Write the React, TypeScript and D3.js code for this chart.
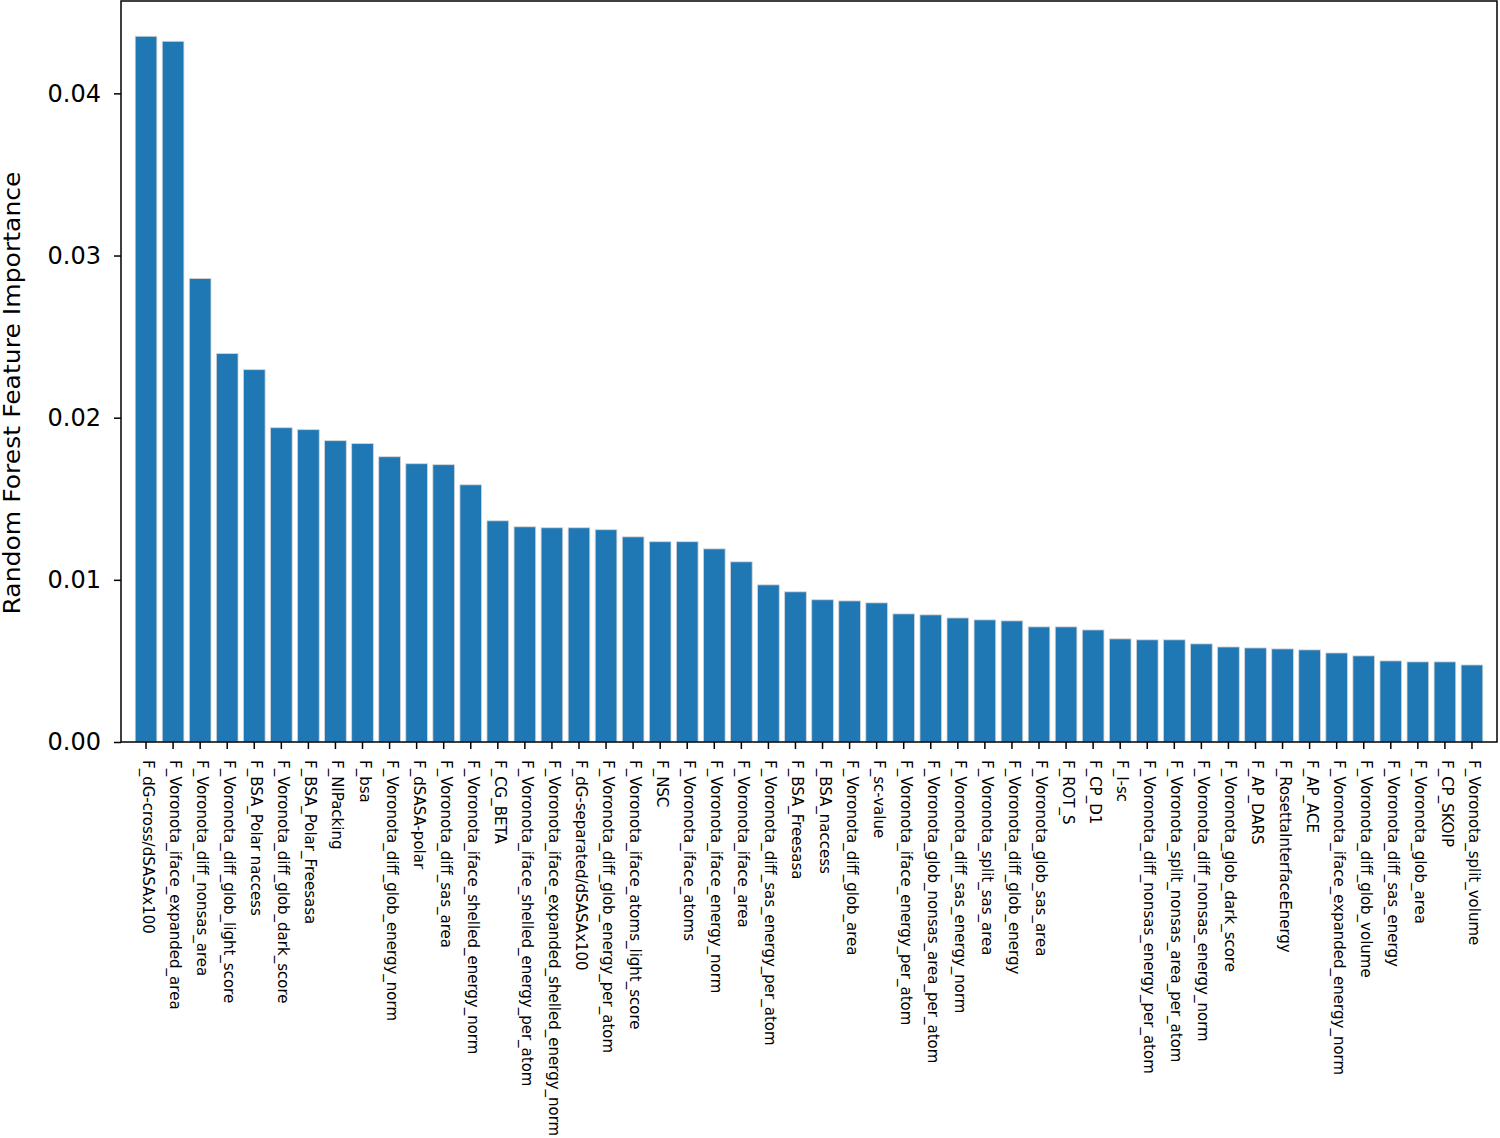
import React, { useEffect, useRef } from "react";
import * as d3 from "d3";

const features = [
  "F_dG-cross/dSASAx100",
  "F_Voronota_iface_expanded_area",
  "F_Voronota_diff_nonsas_area",
  "F_Voronota_diff_glob_light_score",
  "F_BSA_Polar naccess",
  "F_Voronota_diff_glob_dark_score",
  "F_BSA_Polar_Freesasa",
  "F_NIPacking",
  "F_bsa",
  "F_Voronota_diff_glob_energy_norm",
  "F_dSASA-polar",
  "F_Voronota_diff_sas_area",
  "F_Voronota_iface_shelled_energy_norm",
  "F_CG_BETA",
  "F_Voronota_iface_shelled_energy_per_atom",
  "F_Voronota_iface_expanded_shelled_energy_norm",
  "F_dG-separated/dSASAx100",
  "F_Voronota_diff_glob_energy_per_atom",
  "F_Voronota_iface_atoms_light_score",
  "F_NSC",
  "F_Voronota_iface_atoms",
  "F_Voronota_iface_energy_norm",
  "F_Voronota_iface_area",
  "F_Voronota_diff_sas_energy_per_atom",
  "F_BSA_Freesasa",
  "F_BSA_naccess",
  "F_Voronota_diff_glob_area",
  "F_sc-value",
  "F_Voronota_iface_energy_per_atom",
  "F_Voronota_glob_nonsas_area_per_atom",
  "F_Voronota_diff_sas_energy_norm",
  "F_Voronota_split_sas_area",
  "F_Voronota_diff_glob_energy",
  "F_Voronota_glob_sas_area",
  "F_ROT_S",
  "F_CP_D1",
  "F_I-sc",
  "F_Voronota_diff_nonsas_energy_per_atom",
  "F_Voronota_split_nonsas_area_per_atom",
  "F_Voronota_diff_nonsas_energy_norm",
  "F_Voronota_glob_dark_score",
  "F_AP_DARS",
  "F_RosettaInterfaceEnergy",
  "F_AP_ACE",
  "F_Voronota_iface_expanded_energy_norm",
  "F_Voronota_diff_glob_volume",
  "F_Voronota_diff_sas_energy",
  "F_Voronota_glob_area",
  "F_CP_SKOIP",
  "F_Voronota_split_volume",
];

const importance = [
  0.04352, 0.04321, 0.02858, 0.02395, 0.02296, 0.01938, 0.01926, 0.01858,
  0.0184, 0.01759, 0.01716, 0.0171, 0.01586, 0.01364, 0.01327, 0.01321,
  0.01321, 0.01309, 0.01265, 0.01235, 0.01235, 0.01191, 0.01111, 0.00969,
  0.00926, 0.00877, 0.0087, 0.00858, 0.0079, 0.00784, 0.00765, 0.00753,
  0.00747, 0.0071, 0.0071, 0.00691, 0.00636, 0.0063, 0.0063, 0.00605,
  0.00586, 0.0058, 0.00574, 0.00568, 0.00549, 0.00531, 0.005, 0.00494,
  0.00494, 0.00475,
];

const yTicks = [0, 0.01, 0.02, 0.03, 0.04];

const App = () => {
  const ref = useRef<SVGSVGElement>(null);

  useEffect(() => {
    const width = 1500;
    const height = 1138;
    const margin = { top: 1, right: 3, bottom: 396, left: 121 };

    const svg = d3.select(ref.current);
    svg.selectAll("*").remove();

    const data = features.map((f, i) => ({ name: f, value: importance[i] }));

    const x = d3
      .scaleBand()
      .domain(features)
      .range([margin.left, width - margin.right])
      .paddingInner(0.2)
      .paddingOuter(0.525);

    const y = d3
      .scaleLinear()
      .domain([0, d3.max(importance) * 1.05])
      .range([height - margin.bottom, margin.top]);

    svg.append("g")
      .selectAll("rect")
      .data(data)
      .join("rect")
      .attr("x", (d) => x(d.name))
      .attr("y", (d) => y(d.value))
      .attr("width", x.bandwidth())
      .attr("height", (d) => y(0) - y(d.value))
      .attr("fill", "#1f77b4")
      .attr("stroke", "#d4d4d4")
      .attr("stroke-width", 0.8);

    const font = "'DejaVu Sans', sans-serif";

    // x axis
    const xAxis = svg
      .append("g")
      .attr("transform", `translate(0,${y(0)})`)
      .call(d3.axisBottom(x).tickSize(7).tickSizeOuter(0));
    xAxis.select(".domain").remove();
    xAxis.selectAll(".tick line").attr("stroke", "#000").attr("stroke-width", 1.5);
    xAxis
      .selectAll(".tick text")
      .attr("font-family", font)
      .attr("font-size", 15)
      .attr("fill", "#000")
      .attr("transform", "rotate(90)")
      .attr("text-anchor", "start")
      .attr("x", 18)
      .attr("y", 0)
      .attr("dy", "0.2em");

    // y axis
    const yAxis = svg
      .append("g")
      .attr("transform", `translate(${margin.left},0)`)
      .call(
        d3.axisLeft(y).tickValues(yTicks).tickSize(7).tickPadding(13)
          .tickFormat(d3.format(".2f"))
      );
    yAxis.select(".domain").remove();
    yAxis.selectAll(".tick line").attr("stroke", "#000").attr("stroke-width", 1.5);
    yAxis
      .selectAll(".tick text")
      .attr("font-family", font)
      .attr("font-size", 24)
      .attr("fill", "#000");

    // frame
    svg.append("rect")
      .attr("x", margin.left)
      .attr("y", margin.top)
      .attr("width", width - margin.right - margin.left)
      .attr("height", y(0) - margin.top)
      .attr("fill", "none")
      .attr("stroke", "#000")
      .attr("stroke-width", 1.5);

    svg.append("text")
      .attr("transform", `translate(20,393) rotate(-90)`)
      .attr("text-anchor", "middle")
      .attr("font-family", font)
      .attr("font-size", 23)
      .attr("textLength", 443)
      .attr("lengthAdjust", "spacingAndGlyphs")
      .attr("fill", "#000")
      .text("Random Forest Feature Importance");
  }, []);

  return (
    <div style={{ position: "absolute", left: 0, top: 0 }}>
      <svg ref={ref} width={1500} height={1138} style={{ display: "block", background: "#fff" }} />
    </div>
  );
};

export default App;
